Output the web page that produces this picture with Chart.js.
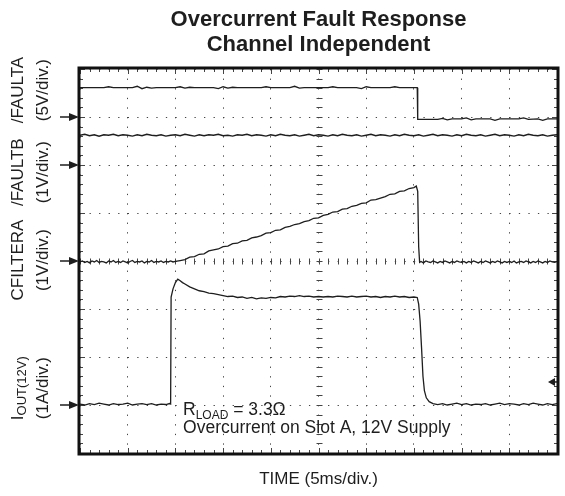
<!DOCTYPE html>
<html><head><meta charset="utf-8">
<script src="https://cdn.jsdelivr.net/npm/chart.js@4/dist/chart.umd.min.js"></script>
<style>html,body{margin:0;padding:0;background:#fff}canvas{display:block}</style>
</head><body>
<canvas id="c" width="565" height="496"></canvas>
<script>
// ---- text ----
const titleLines = ['Overcurrent Fault Response', 'Channel Independent'];
const xAxisTitle = 'TIME (5ms/div.)';
const channelNames = ['/FAULTA', '/FAULTB', 'CFILTERA', 'I|OUT(12V)'];
const channelScales = ['(5V/div.)', '(1V/div.)', '(1V/div.)', '(1A/div.)'];
const noteLine1 = ['R', 'LOAD', ' = 3.3Ω'];
const noteLine2 = 'Overcurrent on Slot A, 12V Supply';

// ---- scope screen (divisions) ----
const timeDivs = [0, 10];
const voltDivs = [0, 8];
const channelGround = [7, 6, 4, 1];   // ground-reference arrow of each channel (div)
const triggerLevel = 1.48;             // trigger marker (div)

// ---- traces: [time div, level div] ----
const faultA = [[0,7.61],[0.5,7.61],[0.6,7.63],[0.7,7.61],[1.1,7.61],[1.2,7.64],[1.3,7.59],[1.4,7.62],[1.5,7.60],[1.6,7.61],
  [2.0,7.61],[2.1,7.63],[2.2,7.60],[2.3,7.62],[2.4,7.61],[2.8,7.61],[2.9,7.59],[3.0,7.63],[3.1,7.60],[3.2,7.62],
  [3.3,7.61],[3.8,7.61],[3.9,7.63],[4.0,7.61],[4.4,7.61],[4.5,7.64],[4.6,7.60],[4.7,7.61],[5.2,7.61],[5.3,7.63],
  [5.4,7.61],[5.8,7.61],[5.9,7.59],[6.0,7.63],[6.1,7.61],[6.5,7.61],[6.6,7.63],[6.7,7.61],[7.07,7.61],[7.08,6.95],
  [7.15,6.95],[7.5,6.95],[7.6,6.97],[7.7,6.94],[7.8,6.96],[8.0,6.96],[8.1,6.98],[8.2,6.94],[8.3,6.96],[8.6,6.96],
  [8.7,6.93],[8.8,6.96],[9.2,6.96],[9.3,6.98],[9.4,6.95],[9.6,6.96],[9.7,6.93],[9.8,6.96],[10,6.96]];

const faultB = [[0,6.62],[0.1,6.64],[0.2,6.61],[0.3,6.63],[0.4,6.60],[0.5,6.63],[0.6,6.62],[0.7,6.64],[0.8,6.61],[0.9,6.63],
  [1.0,6.62],[1.1,6.60],[1.2,6.63],[1.3,6.61],[1.4,6.64],[1.5,6.62],[1.6,6.61],[1.7,6.63],[1.8,6.60],[1.9,6.62],
  [2.0,6.63],[2.1,6.61],[2.2,6.64],[2.3,6.62],[2.4,6.60],[2.5,6.63],[2.6,6.61],[2.7,6.63],[2.8,6.62],[2.9,6.64],
  [3.0,6.61],[3.1,6.62],[3.2,6.60],[3.3,6.63],[3.4,6.62],[3.5,6.64],[3.6,6.61],[3.7,6.63],[3.8,6.62],[3.9,6.60],
  [4.0,6.63],[4.1,6.61],[4.2,6.64],[4.3,6.62],[4.4,6.61],[4.5,6.63],[4.6,6.60],[4.7,6.62],[4.8,6.64],[4.9,6.61],
  [5.0,6.63],[5.1,6.62],[5.2,6.60],[5.3,6.63],[5.4,6.61],[5.5,6.64],[5.6,6.62],[5.7,6.61],[5.8,6.63],[5.9,6.60],
  [6.0,6.62],[6.1,6.64],[6.2,6.61],[6.3,6.63],[6.4,6.62],[6.5,6.60],[6.6,6.63],[6.7,6.61],[6.8,6.64],[6.9,6.62],
  [7.0,6.61],[7.1,6.63],[7.2,6.60],[7.3,6.62],[7.4,6.64],[7.5,6.61],[7.6,6.63],[7.7,6.62],[7.8,6.60],[7.9,6.63],
  [8.0,6.61],[8.1,6.64],[8.2,6.62],[8.3,6.61],[8.4,6.63],[8.5,6.60],[8.6,6.62],[8.7,6.64],[8.8,6.61],[8.9,6.63],
  [9.0,6.62],[9.1,6.60],[9.2,6.63],[9.3,6.61],[9.4,6.64],[9.5,6.62],[9.6,6.61],[9.7,6.63],[9.8,6.60],[9.9,6.62],[10,6.63]];

const cfilterA = [[0,3.98],[0.05,4.00],[0.1,3.97],[0.15,3.99],[0.2,3.96],[0.25,4.00],[0.3,3.98],[0.35,4.01],[0.4,3.97],[0.45,3.99],
  [0.5,3.98],[0.55,3.96],[0.6,4.00],[0.65,3.98],[0.7,4.01],[0.75,3.97],[0.8,3.99],[0.85,3.97],[0.9,4.00],[0.95,3.98],
  [1.0,3.96],[1.05,3.99],[1.1,4.01],[1.15,3.97],[1.2,3.99],[1.25,3.98],[1.3,4.00],[1.35,3.96],[1.4,3.99],[1.45,3.98],
  [1.5,4.01],[1.55,3.97],[1.6,3.99],[1.65,3.98],[1.7,4.00],[1.75,3.97],[1.8,3.99],[1.85,3.98],[1.9,4.00],[1.95,3.98],
  [2.0,3.99],[2.1,4.01],[2.2,4.03],[2.3,4.08],[2.4,4.09],[2.5,4.14],[2.6,4.15],[2.7,4.21],[2.8,4.23],[2.9,4.25],
  [3.0,4.30],[3.1,4.31],[3.2,4.36],[3.3,4.37],[3.4,4.42],[3.5,4.43],[3.6,4.48],[3.7,4.50],[3.8,4.53],[3.9,4.58],
  [4.0,4.59],[4.1,4.64],[4.2,4.65],[4.3,4.70],[4.4,4.72],[4.5,4.76],[4.6,4.78],[4.7,4.82],[4.8,4.84],[4.9,4.89],
  [5.0,4.90],[5.1,4.95],[5.2,4.97],[5.3,5.02],[5.4,5.03],[5.5,5.08],[5.6,5.09],[5.7,5.14],[5.8,5.16],[5.9,5.20],
  [6.0,5.21],[6.1,5.27],[6.2,5.28],[6.3,5.31],[6.4,5.34],[6.5,5.39],[6.6,5.40],[6.7,5.45],[6.8,5.46],[6.9,5.51],
  [7.0,5.53],[7.05,5.56],[7.08,5.45],[7.10,4.30],[7.12,3.97],[7.15,3.99],[7.2,3.96],[7.25,4.00],[7.3,3.98],[7.35,3.97],
  [7.4,4.00],[7.45,3.98],[7.5,3.96],[7.55,3.99],[7.6,3.97],[7.65,4.00],[7.7,3.98],[7.75,3.96],[7.8,3.99],[7.85,3.97],
  [7.9,4.00],[7.95,3.98],[8.0,3.97],[8.05,3.99],[8.1,3.96],[8.15,3.99],[8.2,3.97],[8.25,4.00],[8.3,3.98],[8.35,3.96],
  [8.4,3.99],[8.45,3.97],[8.5,4.00],[8.55,3.98],[8.6,3.96],[8.65,3.99],[8.7,3.97],[8.75,4.00],[8.8,3.98],[8.85,3.96],
  [8.9,3.99],[8.95,3.97],[9.0,3.99],[9.05,3.97],[9.1,4.00],[9.15,3.96],[9.2,3.98],[9.25,3.99],[9.3,3.97],[9.35,4.00],
  [9.4,3.98],[9.45,3.96],[9.5,3.99],[9.55,3.97],[9.6,4.00],[9.65,3.98],[9.7,3.96],[9.75,3.99],[9.8,3.97],[9.85,4.00],
  [9.9,3.98],[9.95,3.97],[10,3.99]];

const ioutA = [[0,1.02],[0.1,1.00],[0.2,1.03],[0.3,1.01],[0.4,1.04],[0.5,1.02],[0.6,1.00],[0.7,1.03],[0.8,1.01],[0.9,1.02],
  [1.0,1.04],[1.1,1.00],[1.2,1.02],[1.3,1.03],[1.4,1.01],[1.5,1.03],[1.6,1.00],[1.7,1.02],[1.8,1.01],[1.88,1.03],
  [1.90,1.02],[1.91,3.25],[1.95,3.42],[2.0,3.55],[2.05,3.62],[2.1,3.59],[2.15,3.55],[2.2,3.52],[2.3,3.46],[2.4,3.42],
  [2.5,3.38],[2.6,3.36],[2.7,3.33],[2.8,3.32],[2.9,3.30],[3.0,3.28],[3.1,3.26],[3.2,3.27],[3.3,3.24],[3.4,3.25],
  [3.5,3.22],[3.6,3.24],[3.7,3.21],[3.8,3.23],[3.9,3.22],[4.0,3.24],[4.1,3.23],[4.2,3.26],[4.3,3.25],[4.4,3.27],
  [4.5,3.26],[4.6,3.28],[4.7,3.26],[4.8,3.27],[4.9,3.25],[5.0,3.26],[5.1,3.25],[5.2,3.26],[5.3,3.25],[5.4,3.27],
  [5.5,3.26],[5.6,3.25],[5.7,3.27],[5.8,3.25],[5.9,3.26],[6.0,3.27],[6.1,3.25],[6.2,3.26],[6.3,3.24],[6.4,3.26],
  [6.5,3.25],[6.6,3.27],[6.7,3.25],[6.8,3.26],[6.9,3.24],[7.0,3.25],[7.07,3.24],[7.10,3.10],[7.13,2.75],[7.16,2.20],
  [7.19,1.60],[7.22,1.30],[7.26,1.15],[7.32,1.07],[7.40,1.03],[7.5,1.01],[7.6,1.03],[7.7,1.00],[7.8,1.02],[7.9,1.04],
  [8.0,1.01],[8.1,1.03],[8.2,1.00],[8.3,1.02],[8.4,1.01],[8.5,1.03],[8.6,1.00],[8.7,1.02],[8.8,1.04],[8.9,1.01],
  [9.0,1.03],[9.1,1.02],[9.2,1.00],[9.3,1.03],[9.4,1.01],[9.5,1.04],[9.6,1.02],[9.7,1.00],[9.8,1.03],[9.9,1.01],[10,1.03]];

// ---------------------------------------------------------------
const INK = '#1e1e1e';
const FONT = '"Liberation Sans", Arial, Helvetica, sans-serif';
const LBL = 17, SUB = 13;

const scopePlugin = {
  id: 'scope',
  beforeDatasetsDraw(chart) {
    const {ctx, chartArea: a, scales: {x, y}} = chart;
    ctx.save();
    ctx.strokeStyle = '#444';
    ctx.lineWidth = 1;
    const cx = x.getPixelForValue(5), cy = y.getPixelForValue(4);
    ctx.beginPath();
    for (let v = 0; v <= 10.001; v += 0.2) {
      const px = Math.round(x.getPixelForValue(v)) + 0.5;
      const major = Math.abs(v - Math.round(v)) < 0.01;
      const L = major ? 5 : 3;
      ctx.moveTo(px, a.top); ctx.lineTo(px, a.top + L);
      ctx.moveTo(px, a.bottom); ctx.lineTo(px, a.bottom - L);
      ctx.moveTo(px, Math.round(cy) + 0.5 - 3); ctx.lineTo(px, Math.round(cy) + 0.5 + 3);
    }
    for (let v = 0; v <= 8.001; v += 0.2) {
      const py = Math.round(y.getPixelForValue(v)) + 0.5;
      const major = Math.abs(v - Math.round(v)) < 0.01;
      const L = major ? 5 : 3;
      ctx.moveTo(a.left, py); ctx.lineTo(a.left + L, py);
      ctx.moveTo(a.right, py); ctx.lineTo(a.right - L, py);
      ctx.moveTo(Math.round(cx) + 0.5 - 3, py); ctx.lineTo(Math.round(cx) + 0.5 + 3, py);
    }
    ctx.stroke();
    ctx.restore();
  },
  afterDraw(chart) {
    const {ctx, chartArea: a, scales: {x, y}} = chart;
    ctx.save();
    // frame
    ctx.strokeStyle = '#111';
    ctx.lineWidth = 3;
    ctx.strokeRect(a.left - 1, a.top - 1, a.right - a.left + 2, a.bottom - a.top + 2);
    // ground arrows
    ctx.fillStyle = INK; ctx.strokeStyle = INK; ctx.lineWidth = 1.5;
    channelGround.forEach(g => {
      const py = y.getPixelForValue(g);
      ctx.beginPath(); ctx.moveTo(a.left - 20, py); ctx.lineTo(a.left - 8, py); ctx.stroke();
      ctx.beginPath(); ctx.moveTo(a.left - 1, py); ctx.lineTo(a.left - 11, py - 4); ctx.lineTo(a.left - 11, py + 4); ctx.closePath(); ctx.fill();
    });
    // trigger marker
    const ty = y.getPixelForValue(triggerLevel);
    ctx.beginPath(); ctx.moveTo(a.right - 9, ty); ctx.lineTo(a.right - 2, ty - 4); ctx.lineTo(a.right - 2, ty + 4); ctx.closePath(); ctx.fill();
    ctx.beginPath(); ctx.moveTo(a.right - 4, ty); ctx.lineTo(a.right, ty); ctx.stroke();

    // channel labels (rotated)
    const centers = [7.56, 5.85, 4.02, 1.35];
    const col1 = 18, col2 = 43;
    ctx.fillStyle = INK;
    ctx.textBaseline = 'middle';
    channelNames.forEach((name, i) => {
      const py = y.getPixelForValue(centers[i]);
      ctx.save(); ctx.translate(col1, py); ctx.rotate(-Math.PI / 2);
      if (name.includes('|')) {
        const [main, sub] = name.split('|');
        ctx.font = LBL + 'px ' + FONT; const w1 = ctx.measureText(main).width;
        ctx.font = SUB + 'px ' + FONT; const w2 = ctx.measureText(sub).width;
        const sx = -(w1 + w2) / 2;
        ctx.textAlign = 'left';
        ctx.font = LBL + 'px ' + FONT; ctx.fillText(main, sx, 0);
        ctx.font = SUB + 'px ' + FONT; ctx.fillText(sub, sx + w1, 4);
      } else {
        ctx.font = LBL + 'px ' + FONT; ctx.textAlign = 'center'; ctx.fillText(name, 0, 0);
      }
      ctx.restore();
      ctx.save(); ctx.translate(col2, py); ctx.rotate(-Math.PI / 2);
      ctx.font = LBL + 'px ' + FONT; ctx.textAlign = 'center'; ctx.fillText(channelScales[i], 0, 0);
      ctx.restore();
    });

    // annotation
    ctx.textAlign = 'left'; ctx.textBaseline = 'alphabetic';
    const nx = x.getPixelForValue(2.16);
    const ny1 = y.getPixelForValue(0.79), ny2 = y.getPixelForValue(0.41);
    ctx.font = '17.5px ' + FONT;
    ctx.fillText(noteLine1[0], nx, ny1);
    let ox = nx + ctx.measureText(noteLine1[0]).width;
    ctx.font = '12px ' + FONT;
    ctx.fillText(noteLine1[1], ox, ny1 + 4);
    ox += ctx.measureText(noteLine1[1]).width;
    ctx.font = '17.5px ' + FONT;
    ctx.fillText(noteLine1[2], ox, ny1);
    ctx.fillText(noteLine2, nx, ny2);
    ctx.restore();
  }
};

const trace = (pts) => ({
  data: pts.map(p => ({x: p[0], y: p[1]})),
  borderColor: INK, borderWidth: 1.3, pointRadius: 0, tension: 0, fill: false
});

new Chart(document.getElementById('c'), {
  type: 'line',
  data: { datasets: [trace(faultA), trace(faultB), trace(cfilterA), trace(ioutA)] },
  options: {
    responsive: false, animation: false, devicePixelRatio: 1,
    layout: { padding: { left: 80, right: 8, top: 0, bottom: 0 } },
    plugins: {
      legend: { display: false }, tooltip: { enabled: false },
      title: {
        display: true, text: titleLines, fullSize: false, color: INK,
        font: { family: FONT, size: 22, weight: 'bold', lineHeight: 1.15 },
        padding: { top: 7, bottom: 11.4 }
      }
    },
    scales: {
      x: {
        type: 'linear', min: timeDivs[0], max: timeDivs[1],
        ticks: { display: false, stepSize: 1 },
        border: { display: false, dash: [1.3, 8.3] },
        grid: { color: '#444', lineWidth: 1, drawTicks: false },
        title: { display: true, text: xAxisTitle, color: INK, font: { family: FONT, size: 17 }, padding: { top: 16, bottom: 6.6 } }
      },
      y: {
        type: 'linear', min: voltDivs[0], max: voltDivs[1],
        ticks: { display: false, stepSize: 1 },
        border: { display: false, dash: [1.3, 8.24] },
        grid: { color: '#444', lineWidth: 1, drawTicks: false }
      }
    }
  },
  plugins: [scopePlugin]
});
</script>
</body></html>
